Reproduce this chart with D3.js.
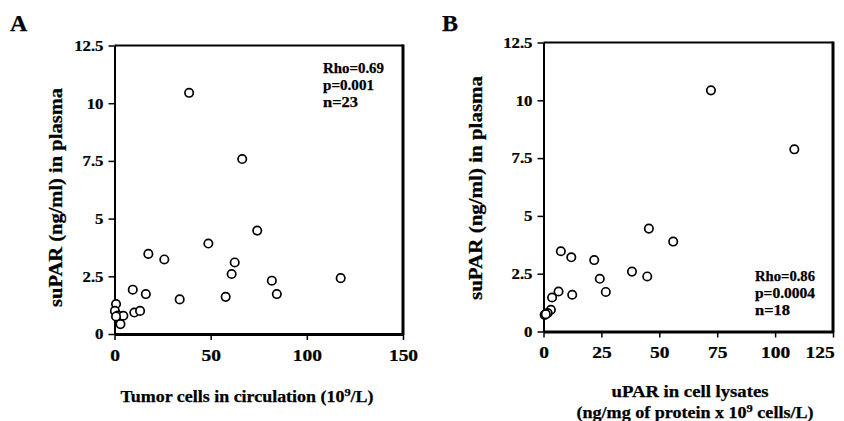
<!DOCTYPE html>
<html><head><meta charset="utf-8">
<script src="https://cdn.jsdelivr.net/npm/d3@7"></script>
<style>
html,body{margin:0;padding:0;background:#fff;}
svg text{font-family:"Liberation Serif","Times New Roman",serif;font-weight:bold;fill:#000;stroke:#000;stroke-width:0.25px;}
</style></head>
<body>
<svg id="c" width="844" height="421"></svg>
<script>
// Panel A data
const aX = [38.8, 66.4, 74.2, 48.8, 17.6, 25.9, 62.5, 60.9, 81.8, 117.6, 9.5, 16.3, 84.4, 33.9, 57.8, 0.8, 0.2, 10.3, 13.3, 1.8, 4.6, 3.1, 0.8];
const aY = [10.45, 7.58, 4.48, 3.92, 3.47, 3.23, 3.10, 2.60, 2.31, 2.42, 1.92, 1.73, 1.73, 1.50, 1.61, 1.30, 1.00, 0.93, 1.00, 0.80, 0.79, 0.43, 0.76];
const aXTicks = [0, 50, 100, 150];
// Panel B data
const bX = [72.3, 108.3, 45.5, 56.0, 7.5, 12.0, 21.9, 24.3, 38.2, 44.8, 26.9, 6.5, 12.4, 3.7, 3.2, 1.8, 0.5, 1.0];
const bY = [10.43, 7.88, 4.45, 3.89, 3.47, 3.21, 3.09, 2.28, 2.59, 2.38, 1.71, 1.73, 1.59, 1.47, 0.94, 0.80, 0.72, 0.75];
const bXTicks = [0, 25, 50, 75, 100, 125];
const yTicks = [0, 2.5, 5, 7.5, 10, 12.5];
const yTickLabels = ["0", "2.5", "5", "7.5", "10", "12.5"];
const yTitle = "suPAR (ng/ml) in plasma";
const aStats = ["Rho=0.69", "p=0.001", "n=23"];
const bStats = ["Rho=0.86", "p=0.0004", "n=18"];

const svg = d3.select("#c");

function panel(cfg) {
  const x = d3.scaleLinear().domain([0, cfg.xMax]).range([cfg.x0, cfg.x1]);
  const y = d3.scaleLinear().domain([0, 12.5]).range([cfg.y0, cfg.y1]);
  const g = svg.append("g");
  // frame top/right
  g.append("line").attr("x1", cfg.x0).attr("x2", cfg.x1).attr("y1", cfg.y1).attr("y2", cfg.y1)
    .attr("stroke", "#000").attr("stroke-width", 2);
  g.append("line").attr("x1", cfg.x1).attr("x2", cfg.x1).attr("y1", cfg.y1 - 1).attr("y2", cfg.y0 + 1)
    .attr("stroke", "#000").attr("stroke-width", 3);
  // y axis
  const ya = g.append("g").attr("transform", `translate(${cfg.x0},0)`)
    .call(d3.axisLeft(y).tickValues(yTicks).tickFormat((d, i) => yTickLabels[i]).tickSize(6).tickSizeOuter(0).tickPadding(5));
  ya.select(".domain").attr("stroke-width", 2);
  ya.selectAll(".tick line").attr("stroke-width", 1.5);
  ya.selectAll("text").attr("font-size", 15).attr("font-family", null)
    .attr("x", -11 / 1.12).attr("transform", "scale(1.12,1)");
  // x axis
  const xa = g.append("g").attr("transform", `translate(0,${cfg.y0})`)
    .call(d3.axisBottom(x).tickValues(cfg.xTicks).tickSize(6).tickSizeOuter(0).tickPadding(9));
  xa.select(".domain").attr("stroke-width", 3);
  xa.selectAll(".tick line").attr("stroke-width", 1.5);
  xa.selectAll("text").attr("font-size", 16.5).attr("font-family", null).attr("transform", "scale(1.18,1)");
  if (cfg.lastEnd) {
    xa.selectAll(".tick text").filter(d => d === cfg.xMax).attr("text-anchor", "end").attr("x", 1);
  }
  // points
  g.selectAll("circle").data(cfg.xs.map((v, i) => [v, cfg.ys[i]])).join("circle")
    .attr("cx", d => x(d[0])).attr("cy", d => y(d[1])).attr("r", 4.2)
    .attr("fill", "#fff").attr("stroke", "#000").attr("stroke-width", 1.7);
  // stats
  cfg.stats.forEach((s, i) => {
    g.append("text").attr("x", cfg.sx).attr("y", cfg.sy + i * 17).attr("font-size", 14)
      .attr("textLength", cfg.sw[i]).attr("lengthAdjust", "spacingAndGlyphs").text(s);
  });
  // panel letter
  g.append("text").attr("x", cfg.lx).attr("y", 31).attr("font-size", 24).text(cfg.letter);
  // y title
  g.append("text").attr("transform", `translate(${cfg.ytx},${cfg.yty}) rotate(-90)`)
    .attr("text-anchor", "middle").attr("font-size", 18)
    .attr("textLength", cfg.ytl).attr("lengthAdjust", "spacingAndGlyphs").text(yTitle);
  return { g, x, y };
}

const A = panel({ x0: 114.5, x1: 403, y0: 334, y1: 45.5, xMax: 150, xTicks: aXTicks, xs: aX, ys: aY,
  stats: aStats, sx: 323, sy: 73, sw: [61, 51, 35], letter: "A", lx: 10, ytx: 62, yty: 197.5, ytl: 219, lastEnd: false });
const B = panel({ x0: 543.5, x1: 833, y0: 331.5, y1: 42.5, xMax: 125, xTicks: bXTicks, xs: bX, ys: bY,
  stats: bStats, sx: 755, sy: 281, sw: [60, 60, 35], letter: "B", lx: 442, ytx: 482, yty: 188, ytl: 224, lastEnd: true });

// x titles
const tA = A.g.append("text").attr("x", 247).attr("y", 402).attr("text-anchor", "middle").attr("font-size", 16)
  .attr("textLength", 253).attr("lengthAdjust", "spacingAndGlyphs");
tA.append("tspan").text("Tumor cells in circulation (10");
tA.append("tspan").attr("font-size", 11).attr("dy", -6).text("9");
tA.append("tspan").attr("dy", 6).text("/L)");

B.g.append("text").attr("x", 690).attr("y", 397).attr("text-anchor", "middle").attr("font-size", 16.5)
  .attr("textLength", 157).attr("lengthAdjust", "spacingAndGlyphs").text("uPAR in cell lysates");
const tB = B.g.append("text").attr("x", 695).attr("y", 418).attr("text-anchor", "middle").attr("font-size", 16)
  .attr("textLength", 237).attr("lengthAdjust", "spacingAndGlyphs");
tB.append("tspan").text("(ng/mg of protein x 10");
tB.append("tspan").attr("font-size", 11).attr("dy", -6).text("9");
tB.append("tspan").attr("dy", 6).text(" cells/L)");
</script>
</body></html>
